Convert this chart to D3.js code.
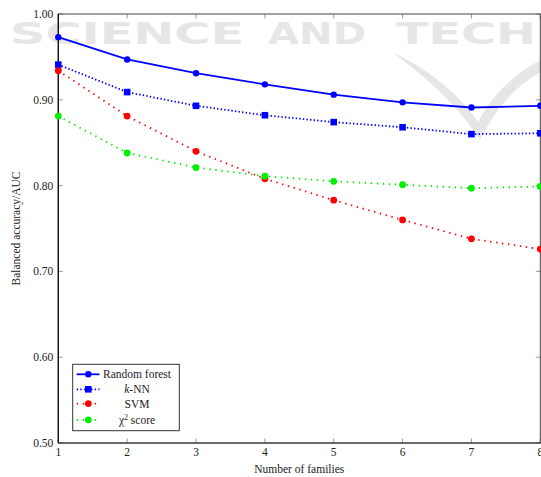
<!DOCTYPE html>
<html><head><meta charset="utf-8">
<script src="https://cdn.jsdelivr.net/npm/d3@7"></script>
<style>
html,body{margin:0;padding:0;background:#fff;}
svg{display:block;}
text{font-family:"Liberation Serif","Times New Roman",serif;fill:#222;}
</style></head>
<body>
<svg id="c" width="541" height="477"></svg>
<script>
const families = [1,2,3,4,5,6,7,8];
const randomForest = [0.973,0.947,0.931,0.918,0.906,0.897,0.891,0.893];
const knn          = [0.941,0.909,0.893,0.882,0.874,0.868,0.860,0.861];
const svm          = [0.934,0.881,0.840,0.808,0.783,0.760,0.738,0.726];
const chi2         = [0.881,0.838,0.821,0.811,0.805,0.801,0.797,0.799];
const yTicks = [0.50,0.60,0.70,0.80,0.90,1.00];
const xTicks = [1,2,3,4,5,6,7,8];
const watermarkWords = ["SCIENCE","AND","TECH"];

const svg = d3.select("#c");
const L = 58.3, R = 540.3, T = 14, B = 443;
const x = d3.scaleLinear().domain([1,8]).range([L,R]);
const y = d3.scaleLinear().domain([0.5,1.0]).range([B,T]);

// watermark
const wm = svg.append("g").attr("fill","#e6e6e6");
wm.append("path")
  .attr("d","M392,52 C430,70 460,95 478,122 C490,100 510,75 541,60 L541,72 C515,86 496,108 480,140 C460,108 430,80 392,52 Z");
const wmPos = [[10,234],[268,98],[396,140]];
watermarkWords.forEach((w,i)=>{
  wm.append("text").attr("x",wmPos[i][0]).attr("y",44)
    .style("font-family","'DejaVu Sans',sans-serif").style("font-weight","bold")
    .style("font-size","31px").style("fill","#e6e6e6")
    .attr("textLength",wmPos[i][1]).attr("lengthAdjust","spacingAndGlyphs")
    .text(w);
});

// ticks (inward, gray) all four sides
const tk = svg.append("g").attr("stroke","#9a9a9a").attr("stroke-width",1);
xTicks.forEach(v=>{
  tk.append("line").attr("x1",x(v)).attr("x2",x(v)).attr("y1",B).attr("y2",B-4.5);
  tk.append("line").attr("x1",x(v)).attr("x2",x(v)).attr("y1",T).attr("y2",T+4.5);
});
yTicks.forEach(v=>{
  tk.append("line").attr("x1",L).attr("x2",L+4.5).attr("y1",y(v)).attr("y2",y(v));
  tk.append("line").attr("x1",R).attr("x2",R-4.5).attr("y1",y(v)).attr("y2",y(v));
});

// frame
svg.append("rect").attr("x",L).attr("y",T).attr("width",R-L).attr("height",B-T)
  .attr("fill","none").attr("stroke","#444").attr("stroke-width",1);
svg.append("line").attr("x1",L).attr("x2",L).attr("y1",T).attr("y2",B).attr("stroke","#111").attr("stroke-width",1.3);
svg.append("line").attr("x1",L).attr("x2",R).attr("y1",B).attr("y2",B).attr("stroke","#333").attr("stroke-width",1.2);

// tick labels
const f = d3.format(".2f");
svg.append("g").selectAll("text").data(yTicks).join("text")
  .attr("x",L-5).attr("y",d=>y(d)+4).attr("text-anchor","end")
  .style("font-size","11.5px").text(d=>f(d));
svg.append("g").selectAll("text").data(xTicks).join("text")
  .attr("x",d=>x(d)).attr("y",B+13).attr("text-anchor","middle")
  .style("font-size","11.5px").text(d=>d);

// axis titles
svg.append("text").attr("x",(L+R)/2).attr("y",473).attr("text-anchor","middle")
  .style("font-size","11.5px").text("Number of families");
svg.append("text").attr("transform",`translate(20,${(T+B)/2}) rotate(-90)`)
  .attr("text-anchor","middle").style("font-size","11.5px").text("Balanced accuracy/AUC");

const series = [
  {name:"Random forest", vals:randomForest, color:"#0000ff", dash:null, width:1.8, marker:"circle", r:3.2},
  {name:"k-NN", vals:knn, color:"#0000ff", dash:"1.4,2.2", width:1.8, marker:"square", r:3.3},
  {name:"SVM", vals:svm, color:"#ff0000", dash:"1.4,4.6", width:1.8, marker:"circle", r:3.4},
  {name:"chi2", vals:chi2, color:"#00ee00", dash:"1.4,4.6", width:1.8, marker:"circle", r:3.4},
];
const line = d3.line().x((d,i)=>x(families[i])).y(d=>y(d)).curve(d3.curveLinear);

function marker(g, s, cx, cy){
  if(s.marker==="square"){
    g.append("rect").attr("x",cx-s.r).attr("y",cy-s.r).attr("width",2*s.r).attr("height",2*s.r).attr("fill",s.color);
  } else {
    g.append("circle").attr("cx",cx).attr("cy",cy).attr("r",s.r).attr("fill",s.color);
  }
}
const plot = svg.append("g");
series.forEach(s=>{
  plot.append("path").datum(s.vals).attr("d",line).attr("fill","none")
    .attr("stroke",s.color).attr("stroke-width",s.width)
    .attr("stroke-dasharray",s.dash).attr("stroke-linecap","butt");
  s.vals.forEach((v,i)=>marker(plot,s,x(families[i]),y(v)));
});

// legend
const lg = svg.append("g");
lg.append("rect").attr("x",72.7).attr("y",364.3).attr("width",106.6).attr("height",66.4)
  .attr("fill","#fff").attr("stroke","#333").attr("stroke-width",1);
const rowsY = [374.3,389.3,403.6,419.8];
series.forEach((s,i)=>{
  const cy = rowsY[i];
  lg.append("line").attr("x1",76.7).attr("x2",99.5).attr("y1",cy).attr("y2",cy)
    .attr("stroke",s.color).attr("stroke-width",s.width).attr("stroke-dasharray",s.dash);
  marker(lg,s,88.3,cy);
  const t = lg.append("text").attr("x",137).attr("y",cy+4).attr("text-anchor","middle").style("font-size","11.5px");
  if(s.name==="k-NN"){
    t.append("tspan").style("font-style","italic").text("k");
    t.append("tspan").text("-NN");
  } else if(s.name==="chi2"){
    t.append("tspan").text("\u03C7");
    t.append("tspan").attr("dy",-4).style("font-size","8px").text("2");
    t.append("tspan").attr("dy",4).text(" score");
  } else t.text(s.name);
});
</script>
</body></html>
